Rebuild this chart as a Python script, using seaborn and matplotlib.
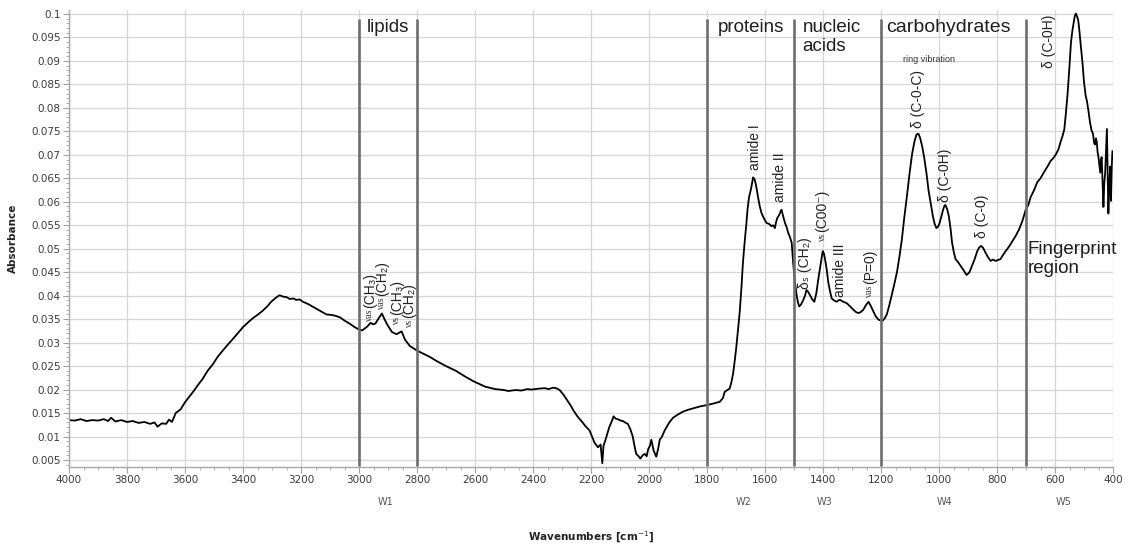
import numpy as np
import seaborn as sns
from matplotlib import pyplot as plt
from matplotlib.ticker import MultipleLocator, FuncFormatter

# spectrum (wavenumber in cm-1, absorbance)
WAVENUMBER = [
    4000, 3980, 3960, 3940, 3920, 3900, 3880, 3865, 3855, 3840, 3820, 3800, 3780, 3760,
    3740, 3720, 3705, 3695, 3680, 3665, 3655, 3645, 3632, 3615, 3600, 3585, 3570, 3555,
    3540, 3522, 3505, 3487, 3470, 3452, 3436, 3418, 3400, 3383, 3366, 3348, 3332, 3315,
    3303, 3288, 3274, 3262, 3250, 3239, 3226, 3216, 3205, 3193, 3175, 3158, 3135, 3112,
    3095, 3080, 3066, 3050, 3031, 3015, 3000, 2989, 2972, 2960, 2950, 2943, 2932, 2921,
    2912, 2904, 2887, 2878, 2870, 2862, 2853, 2842, 2825, 2800, 2780, 2757, 2730, 2700,
    2666, 2632, 2603, 2564, 2530, 2500, 2485, 2460, 2440, 2420, 2406, 2380, 2360, 2345,
    2332, 2320, 2308, 2295, 2285, 2270, 2262, 2247, 2233, 2219, 2205, 2195, 2188, 2176,
    2167, 2161, 2157, 2148, 2137, 2128, 2122, 2115, 2108, 2098, 2090, 2080, 2073, 2064,
    2056, 2050, 2044, 2036, 2030, 2022, 2015, 2008, 2003, 1997, 1992, 1984, 1975, 1968,
    1963, 1955, 1946, 1930, 1917, 1900, 1883, 1865, 1848, 1825, 1800, 1780, 1756, 1745,
    1739, 1730, 1722, 1716, 1710, 1705, 1699, 1693, 1687, 1681, 1676, 1670, 1664, 1660,
    1655, 1648, 1641, 1636, 1632, 1628, 1624, 1618, 1612, 1604, 1595, 1586, 1578, 1572,
    1566, 1562, 1558, 1551, 1546, 1543, 1537, 1531, 1525, 1520, 1514, 1508, 1503, 1497,
    1491, 1486, 1482, 1475, 1468, 1462, 1457, 1451, 1445, 1437, 1430, 1423, 1416, 1408,
    1401, 1397, 1393, 1387, 1382, 1376, 1370, 1362, 1353, 1347, 1341, 1330, 1318, 1306,
    1295, 1286, 1278, 1270, 1261, 1252, 1243, 1235, 1226, 1218, 1209, 1200, 1194, 1187,
    1180, 1172, 1163, 1154, 1145, 1136, 1128, 1120, 1111, 1102, 1093, 1085, 1078, 1071,
    1065, 1058, 1051, 1043, 1036, 1028, 1021, 1015, 1009, 1003, 998, 992, 986, 981,
    978, 972, 966, 960, 955, 949, 943, 935, 926, 916, 905, 895, 886, 877,
    868, 861, 855, 848, 840, 831, 822, 814, 805, 797, 788, 779, 770, 758,
    747, 735, 724, 712, 701, 692, 684, 672, 661, 650, 638, 626, 615, 606,
    597, 588, 580, 574, 568, 563, 557, 551, 545, 540, 536, 532, 528, 524,
    520, 516, 511, 505, 500, 494, 490, 485, 479, 474, 469, 465, 462, 459,
    456, 453, 450, 447, 444, 441, 439, 436, 433, 430, 427, 424, 421, 418,
    416, 413, 410, 407, 404, 402,
]
ABSORBANCE = [
    0.0135, 0.0134, 0.0137, 0.0133, 0.0135, 0.0134, 0.0137, 0.0133, 0.0140, 0.0132, 0.0135, 0.0131, 0.0133, 0.0129,
    0.0131, 0.0127, 0.0130, 0.0121, 0.0128, 0.0127, 0.0136, 0.0131, 0.0150, 0.0158, 0.0173, 0.0185, 0.0197, 0.0210,
    0.0222, 0.0240, 0.0253, 0.0270, 0.0283, 0.0296, 0.0307, 0.0320, 0.0333, 0.0343, 0.0352, 0.0360, 0.0368, 0.0378,
    0.0387, 0.0395, 0.0401, 0.0398, 0.0397, 0.0393, 0.0394, 0.0391, 0.0392, 0.0387, 0.0382, 0.0376, 0.0368, 0.0360,
    0.0359, 0.0357, 0.0354, 0.0347, 0.0340, 0.0333, 0.0328, 0.0326, 0.0334, 0.0342, 0.0339, 0.0341, 0.0352, 0.0362,
    0.0350, 0.0340, 0.0323, 0.0320, 0.0318, 0.0321, 0.0324, 0.0307, 0.0293, 0.0283, 0.0277, 0.0270, 0.0260, 0.0250,
    0.0240, 0.0227, 0.0217, 0.0206, 0.0201, 0.0199, 0.0197, 0.0199, 0.0198, 0.0201, 0.0200, 0.0202, 0.0203, 0.0201,
    0.0204, 0.0203, 0.0199, 0.0189, 0.0180, 0.0166, 0.0157, 0.0143, 0.0133, 0.0122, 0.0113, 0.0098, 0.0087, 0.0077,
    0.0083, 0.0043, 0.0080, 0.0097, 0.0120, 0.0133, 0.0143, 0.0138, 0.0137, 0.0134, 0.0133, 0.0129, 0.0127, 0.0115,
    0.0100, 0.0080, 0.0063, 0.0058, 0.0053, 0.0060, 0.0063, 0.0058, 0.0073, 0.0080, 0.0093, 0.0070, 0.0057, 0.0075,
    0.0093, 0.0100, 0.0113, 0.0130, 0.0140, 0.0147, 0.0153, 0.0157, 0.0160, 0.0164, 0.0167, 0.0170, 0.0174, 0.0182,
    0.0195, 0.0199, 0.0202, 0.0215, 0.0234, 0.0258, 0.0290, 0.0328, 0.0366, 0.0420, 0.0471, 0.0515, 0.0555, 0.0585,
    0.0610, 0.0628, 0.0652, 0.0648, 0.0638, 0.0625, 0.0610, 0.0590, 0.0576, 0.0565, 0.0555, 0.0553, 0.0548, 0.0550,
    0.0544, 0.0556, 0.0565, 0.0572, 0.0580, 0.0583, 0.0568, 0.0555, 0.0545, 0.0534, 0.0525, 0.0513, 0.0471, 0.0430,
    0.0401, 0.0385, 0.0377, 0.0382, 0.0391, 0.0400, 0.0412, 0.0408, 0.0401, 0.0392, 0.0387, 0.0405, 0.0436, 0.0468,
    0.0495, 0.0490, 0.0478, 0.0455, 0.0429, 0.0410, 0.0394, 0.0390, 0.0387, 0.0390, 0.0391, 0.0387, 0.0384, 0.0377,
    0.0370, 0.0365, 0.0363, 0.0365, 0.0370, 0.0380, 0.0387, 0.0378, 0.0366, 0.0356, 0.0349, 0.0347, 0.0347, 0.0352,
    0.0360, 0.0378, 0.0401, 0.0425, 0.0450, 0.0485, 0.0520, 0.0565, 0.0610, 0.0658, 0.0701, 0.0727, 0.0743, 0.0745,
    0.0736, 0.0718, 0.0694, 0.0660, 0.0624, 0.0595, 0.0569, 0.0553, 0.0544, 0.0547, 0.0555, 0.0568, 0.0583, 0.0592,
    0.0593, 0.0585, 0.0569, 0.0542, 0.0513, 0.0493, 0.0478, 0.0472, 0.0464, 0.0455, 0.0444, 0.0450, 0.0464, 0.0478,
    0.0495, 0.0503, 0.0506, 0.0502, 0.0492, 0.0482, 0.0474, 0.0477, 0.0474, 0.0476, 0.0478, 0.0487, 0.0495, 0.0505,
    0.0516, 0.0528, 0.0541, 0.0560, 0.0583, 0.0593, 0.0610, 0.0625, 0.0642, 0.0650, 0.0663, 0.0675, 0.0687, 0.0693,
    0.0701, 0.0712, 0.0729, 0.0740, 0.0754, 0.0785, 0.0827, 0.0880, 0.0939, 0.0965, 0.0980, 0.0995, 0.1001, 0.0995,
    0.0987, 0.0965, 0.0932, 0.0895, 0.0855, 0.0825, 0.0815, 0.0795, 0.0768, 0.0752, 0.0745, 0.0725, 0.0722, 0.0735,
    0.0728, 0.0705, 0.0695, 0.0678, 0.0662, 0.0690, 0.0695, 0.0640, 0.0589, 0.0640, 0.0662, 0.0710, 0.0755, 0.0640,
    0.0575, 0.0630, 0.0675, 0.0602, 0.0680, 0.0708,
]

REGION_BOUNDS = [3000, 2800, 1800, 1500, 1200, 700]
WINDOW_LABELS = ["W1", "W2", "W3", "W4", "W5"]
WINDOW_POS = [2910, 1675, 1395, 980, 570]

# rotated band assignments: (label, wavenumber, bottom absorbance)
BAND_LABELS = [
    ("amide I", 1636, 0.0668),
    ("amide II", 1548, 0.0600),
    ("δₛ (CH₂)", 1461, 0.0415),
    ("amide III", 1341, 0.0398),
    ("δ (C-0-C)", 1072, 0.0757),
    ("δ (C-0H)", 979, 0.0600),
    ("δ (C-0)", 852, 0.0523),
    ("δ (C-0H)", 621, 0.0884),
]
# assignments with a small serif prefix: (prefix, label, wavenumber, bottom absorbance)
NU_LABELS = [
    ("νas", "(CH₃)", 2962, 0.0344),
    ("νas", "(CH₂)", 2921, 0.0370),
    ("νs", "(CH₃)", 2870, 0.0338),
    ("νs", "(CH₂)", 2826, 0.0331),
    ("νs", "(C00⁻)", 1403, 0.0515),
    ("νas", "(P=0)", 1239, 0.0396),
]

SANS = ["Liberation Sans", "DejaVu Sans"]
SERIF = ["Liberation Serif", "DejaVu Serif"]

sns.set_theme(style="whitegrid")
plt.rcParams["font.family"] = ["DejaVu Sans"]

fig = plt.figure(figsize=(11.25, 5.45), dpi=100)
ax = fig.add_axes([69 / 1125, 1 - 467 / 545, 1044 / 1125, 457 / 545])
ax.set_facecolor("white")

sns.lineplot(x=WAVENUMBER, y=ABSORBANCE, ax=ax, color="black", lw=1.3,
             sort=False, estimator=None)

ax.vlines(REGION_BOUNDS, 0.0037, 0.0989, color="#6e6e6e", lw=1.9, zorder=3)

ax.set_xlim(4000, 400)
ax.set_ylim(0.00351, 0.10085)
ax.xaxis.set_major_locator(MultipleLocator(200))
ax.xaxis.set_minor_locator(MultipleLocator(50))
ax.yaxis.set_major_locator(MultipleLocator(0.005))
ax.yaxis.set_minor_locator(MultipleLocator(0.001))
ax.yaxis.set_major_formatter(FuncFormatter(lambda v, _: f"{round(v, 4):g}"))

ax.grid(which="major", color="#d6d6d6", lw=0.9)
ax.grid(which="minor", visible=False)
for side in ("top", "right"):
    ax.spines[side].set_visible(False)
for side in ("left", "bottom"):
    ax.spines[side].set_color("#a8a8a8")
    ax.spines[side].set_linewidth(1.0)
ax.tick_params(which="major", length=4, width=0.8, color="#a0a0a0",
               labelsize=7.5, labelcolor="#3a3a3a", pad=2, left=True, bottom=True)
ax.tick_params(which="minor", length=2, width=0.6, color="#a0a0a0", left=True, bottom=True)

ax.set_xlabel("Wavenumbers [cm$^{-1}$]", fontsize=7.5, fontweight="bold", color="#222222")
ax.xaxis.set_label_coords(0.5, -0.138)
ax.set_ylabel("Absorbance", fontsize=7.5, fontweight="bold", color="#222222")
ax.yaxis.set_label_coords(-0.049, 0.5)

xt = ax.get_xaxis_transform()
for name, pos in zip(WINDOW_LABELS, WINDOW_POS):
    ax.text(pos, -0.077, name, transform=xt, ha="center", va="center",
            fontsize=7, color="#555555")

big = dict(fontsize=13.5, color="#1e1e1e", family=SANS, va="center")
ax.text(2900, 0.0972, "lipids", ha="center", **big)
ax.text(1650, 0.0972, "proteins", ha="center", **big)
ax.text(1470, 0.0972, "nucleic", ha="left", **big)
ax.text(1470, 0.0930, "acids", ha="left", **big)
ax.text(966, 0.0972, "carbohydrates", ha="center", fontsize=14,
        color="#1e1e1e", family=SANS, va="center")
ax.text(694, 0.0499, "Fingerprint", ha="left", **big)
ax.text(694, 0.0457, "region", ha="left", **big)
ax.text(1035, 0.0903, "ring vibration", ha="center", va="center",
        fontsize=6.5, color="#333333", family=SANS)

for label, wn, y0 in BAND_LABELS:
    ax.text(wn, y0, label, rotation=90, ha="center", va="bottom",
            fontsize=10, color="#222222", family=SANS)

for prefix, label, wn, y0 in NU_LABELS:
    ax.text(wn, y0, prefix, rotation=90, ha="center", va="bottom",
            fontsize=7, color="#333333", family=SERIF)
    shift = 0.0029 if prefix == "νas" else 0.0021
    ax.text(wn, y0 + shift, label, rotation=90, ha="center", va="bottom",
            fontsize=10, color="#222222", family=SANS)

fig.savefig("out.png", dpi=100, facecolor="white")
plt.close(fig)
